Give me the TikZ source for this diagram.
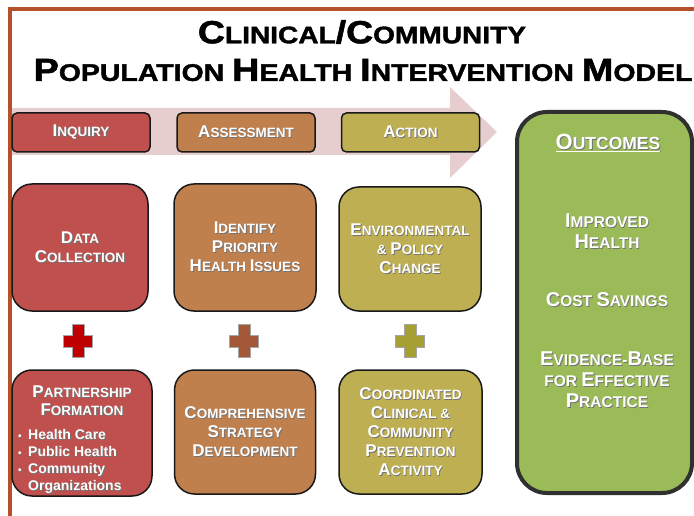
\documentclass[tikz,border=0pt]{standalone}
\usepackage{fontspec}
\setmainfont{Liberation Sans}
\newfontfamily\tfont{Liberation Sans Bold}[FakeBold=1.5]
\definecolor{rust}{RGB}{181,80,42}
\definecolor{arrowpink}{RGB}{231,206,206}
\definecolor{cred}{RGB}{192,80,77}
\definecolor{cbrown}{RGB}{192,128,78}
\definecolor{colive}{RGB}{190,176,82}
\definecolor{cgreen}{RGB}{155,187,89}
\definecolor{boxline}{RGB}{25,25,25}
\definecolor{plusred}{RGB}{190,0,0}
\definecolor{plusbrown}{RGB}{165,88,55}
\definecolor{plusolive}{RGB}{166,160,52}
\def\capsz{17}
\newcommand\Cp[1]{{\fontsize{\capsz}{\capsz}\selectfont #1}}
\newcommand\sh[1]{\leavevmode\rlap{\hspace{0.9pt}\raisebox{-0.9pt}{\color{black!55}#1}}#1}
\tikzset{
  hdr/.style={draw=boxline, line width=1.5pt, rounded corners=5pt, text=white,
    minimum width=138pt, minimum height=39pt, align=center,
    font=\bfseries\fontsize{13.5}{19}\selectfont},
  bigbox/.style={draw=boxline, line width=1.5pt, rounded corners=20pt, text=white,
    align=center, font=\bfseries\fontsize{13.5}{19}\selectfont},
  outtext/.style={text=white, align=center,
    font=\bfseries\fontsize{15.5}{21}\selectfont\def\capsz{20}},
  titletext/.style={font=\tfont\fontsize{24}{38}\selectfont\def\capsz{32}},
  plus/.pic={\path[pic actions, draw=gray!70, line width=0.8pt]
    (-6,-16.5) -- (6,-16.5) -- (6,-6) -- (14.5,-6) -- (14.5,6) -- (6,6) -- (6,16.5)
    -- (-6,16.5) -- (-6,6) -- (-14.5,6) -- (-14.5,-6) -- (-6,-6) -- cycle;}
}
\begin{document}
\begin{tikzpicture}[x=1pt,y=-1pt]
\useasboundingbox (0,0) rectangle (694,516);
% frame
\draw[rust, line width=4pt] (9.5,516) -- (9.5,9) -- (694,9);
% title
\node[titletext] (title1) at (362,32) {\scalebox{1.17}[1]{\Cp{C}LINICAL\Cp{/C}OMMUNITY}};
\node[titletext] (title2) at (363,70) {\scalebox{1.185}[1]{\Cp{P}OPULATION \Cp{H}EALTH \Cp{I}NTERVENTION \Cp{M}ODEL}};
% process arrow
\fill[arrowpink] (12,108) -- (450,108) -- (450,87) -- (497,132) -- (450,178) -- (450,155) -- (12,155) -- cycle;
% header boxes
\node[hdr, fill=cred] (inq) at (81,132.5) {\sh{\Cp{I}NQUIRY}};
\node[hdr, fill=cbrown] (ass) at (246,132.5) {\sh{\Cp{A}SSESSMENT}};
\node[hdr, fill=colive] (act) at (410.5,132.5) {\sh{\Cp{A}CTION}};
% upper boxes
\node[bigbox, fill=cred, minimum width=136pt, minimum height=127pt] (data) at (80,247.5)
  {\sh{\Cp{D}ATA}\\\sh{\Cp{C}OLLECTION}};
\node[bigbox, fill=cbrown, minimum width=142pt, minimum height=127pt] (ident) at (245,247.5)
  {\sh{\Cp{I}DENTIFY}\\\sh{\Cp{P}RIORITY}\\\sh{\Cp{H}EALTH \Cp{I}SSUES}};
\node[bigbox, fill=colive, minimum width=142pt, minimum height=124pt] (env) at (410,249)
  {\sh{\Cp{E}NVIRONMENTAL}\\\sh{\& \Cp{P}OLICY}\\\sh{\Cp{C}HANGE}};
% plus signs
\pic[fill=plusred] (plus1) at (78,341) {plus};
\pic[fill=plusbrown] (plus2) at (244,341) {plus};
\pic[fill=plusolive] (plus3) at (410,341) {plus};
% lower boxes
\node[bigbox, fill=cred, minimum width=140pt, minimum height=126pt] (part) at (82,433) {};
\node[text=white, font=\bfseries\fontsize{13.5}{18}\selectfont, align=center] (parttitle) at (82,401)
  {\sh{\Cp{P}ARTNERSHIP}\\\sh{\Cp{F}ORMATION}};
\node[text=white, font=\bfseries\fontsize{14}{17}\selectfont, align=left, anchor=north west, inner sep=0pt] (partlist) at (18,429)
  {\makebox[10pt][l]{\fontsize{10}{10}\selectfont\sh{\textbullet}}\sh{Health Care}\\
   \makebox[10pt][l]{\fontsize{10}{10}\selectfont\sh{\textbullet}}\sh{Public Health}\\
   \makebox[10pt][l]{\fontsize{10}{10}\selectfont\sh{\textbullet}}\sh{Community}\\
   \makebox[10pt][l]{}\sh{Organizations}};
\node[bigbox, fill=cbrown, minimum width=141pt, minimum height=124pt] (comp) at (245,432)
  {\sh{\Cp{C}OMPREHENSIVE}\\\sh{\Cp{S}TRATEGY}\\\sh{\Cp{D}EVELOPMENT}};
\node[bigbox, fill=colive, minimum width=143pt, minimum height=124pt] (coord) at (410.5,432)
  {\sh{\Cp{C}OORDINATED}\\\sh{\Cp{C}LINICAL \&}\\\sh{\Cp{C}OMMUNITY}\\\sh{\Cp{P}REVENTION}\\\sh{\Cp{A}CTIVITY}};
% outcomes
\node[draw=boxline!90, line width=4pt, rounded corners=30pt, fill=cgreen,
  minimum width=175pt, minimum height=381pt] (outc) at (604.5,302.5) {};
\node[outtext, font=\bfseries\fontsize{17.5}{21}\selectfont\def\capsz{22}] (outtitle) at (608,143)
  {\sh{\underline{\Cp{O}UTCOMES}}};
\node[outtext] (out1) at (607,231.5) {\sh{\Cp{I}MPROVED}\\\sh{\Cp{H}EALTH}};
\node[outtext] (out2) at (607,300) {\sh{\Cp{C}OST \Cp{S}AVINGS}};
\node[outtext] (out3) at (607,380) {\sh{\Cp{E}VIDENCE-\Cp{B}ASE}\\\sh{FOR \Cp{E}FFECTIVE}\\\sh{\Cp{P}RACTICE}};
\end{tikzpicture}
\end{document}
